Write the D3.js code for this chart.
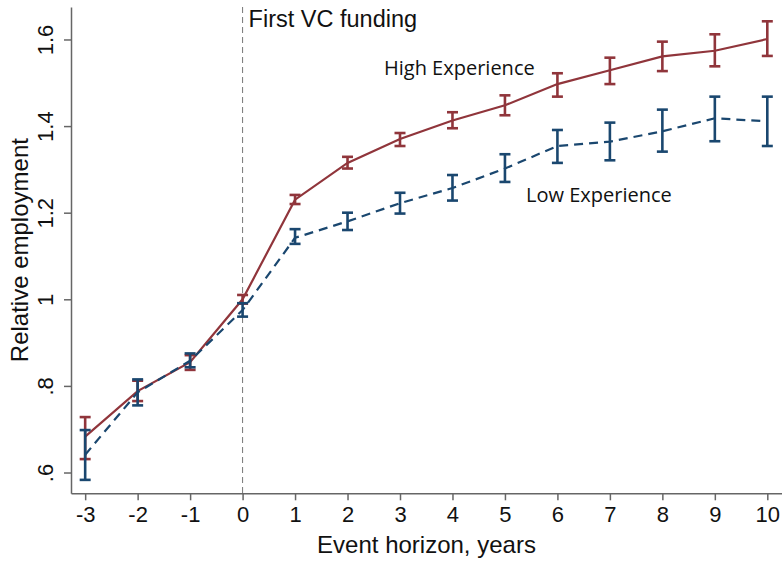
<!DOCTYPE html>
<html>
<head>
<meta charset="utf-8">
<script src="https://cdn.jsdelivr.net/npm/d3@7"></script>
<style>
  body { margin: 0; background: #fff; }
  text { font-family: "Liberation Sans", Arial, sans-serif; }
</style>
</head>
<body>
<svg width="782" height="561"></svg>
<script>
// event horizon (years relative to first VC round)
const years = [-3, -2, -1, 0, 1, 2, 3, 4, 5, 6, 7, 8, 9, 10];

// High experience VC: point estimate and 95% CI
const highMean = [0.683, 0.788, 0.855, 1.000, 1.230, 1.315, 1.370, 1.413, 1.448, 1.497, 1.529, 1.561, 1.574, 1.601];
const highLo   = [0.631, 0.765, 0.837, 0.990, 1.220, 1.302, 1.354, 1.395, 1.425, 1.468, 1.497, 1.527, 1.538, 1.562];
const highHi   = [0.728, 0.812, 0.871, 1.010, 1.241, 1.329, 1.384, 1.432, 1.471, 1.522, 1.558, 1.595, 1.612, 1.642];

// Low experience VC
const lowMean = [0.641, 0.785, 0.858, 0.975, 1.142, 1.180, 1.222, 1.257, 1.302, 1.354, 1.364, 1.388, 1.418, 1.411];
const lowLo   = [0.583, 0.755, 0.843, 0.960, 1.128, 1.160, 1.198, 1.228, 1.271, 1.315, 1.321, 1.341, 1.365, 1.354];
const lowHi   = [0.698, 0.815, 0.875, 0.991, 1.162, 1.200, 1.246, 1.287, 1.335, 1.391, 1.408, 1.438, 1.468, 1.468];

const yTicks = [0.6, 0.8, 1.0, 1.2, 1.4, 1.6];
const yTickLabels = [".6", ".8", "1", "1.2", "1.4", "1.6"];

const svg = d3.select("svg"),
  width = +svg.attr("width"),
  height = +svg.attr("height");

const plotLeft = 71, plotTop = 7, plotBottom = 493.3;

const x = d3.scaleLinear().domain([-3.27, 10.28]).range([plotLeft, width]);
const y = d3.scaleLinear().domain([0.552, 1.675]).range([plotBottom, plotTop]);

const maroon = "rgb(144,53,59)",
  navy = "rgb(26,71,111)";

// vertical marker at first funding
svg.append("line")
  .attr("x1", x(0)).attr("x2", x(0))
  .attr("y1", plotTop).attr("y2", plotBottom)
  .attr("stroke", "#777")
  .attr("stroke-width", 1)
  .attr("stroke-dasharray", "6,4");

// axes
const xAxis = svg.append("g")
  .attr("transform", `translate(0,${plotBottom})`)
  .call(d3.axisBottom(x).tickValues(years).tickSize(7).tickSizeOuter(0).tickPadding(6)
    .tickFormat(d => String(d)));   // plain hyphen, as in the original

const yAxis = svg.append("g")
  .attr("transform", `translate(${plotLeft},0)`)
  .call(d3.axisLeft(y).tickValues(yTicks).tickSize(7).tickSizeOuter(0)
    .tickFormat((d, i) => yTickLabels[i]));

[xAxis, yAxis].forEach(g => {
  g.select(".domain").attr("stroke", "#666").attr("stroke-width", 1.5);
  g.selectAll(".tick line").attr("stroke", "#666").attr("stroke-width", 1.5);
  g.selectAll(".tick text").attr("fill", "#111").style("font-size", "22px");
});

xAxis.selectAll(".tick text").attr("dy", null).attr("y", 29);

// rotated y tick labels
yAxis.selectAll(".tick text")
  .attr("x", null).attr("dy", null)
  .attr("text-anchor", "middle")
  .attr("transform", "translate(-18,0) rotate(-90)")
  .attr("y", 0);

// axis titles
svg.append("text")
  .attr("x", (plotLeft + width) / 2 + 0)
  .attr("y", 552.5)
  .attr("text-anchor", "middle")
  .style("font-size", "24px")
  .attr("fill", "#111")
  .text("Event horizon, years");

svg.append("text")
  .attr("transform", `translate(28,${(plotTop + plotBottom) / 2}) rotate(-90)`)
  .attr("text-anchor", "middle")
  .style("font-size", "24px")
  .attr("fill", "#111")
  .text("Relative employment");

// series
const series = [
  { name: "high", mean: highMean, lo: highLo, hi: highHi, color: maroon, dash: null },
  { name: "low", mean: lowMean, lo: lowLo, hi: lowHi, color: navy, dash: "9,6" }
];

const line = d3.line()
  .x(d => x(d.year))
  .y(d => y(d.mean));

series.forEach(s => {
  const pts = years.map((yr, i) => ({ year: yr, mean: s.mean[i], lo: s.lo[i], hi: s.hi[i] }));

  svg.append("path")
    .datum(pts)
    .attr("fill", "none")
    .attr("stroke", s.color)
    .attr("stroke-width", 2.2)
    .attr("stroke-dasharray", s.dash)
    .attr("d", line);

  const bars = svg.append("g").attr("class", "ci-" + s.name)
    .selectAll("g")
    .data(pts)
    .enter().append("g")
    .attr("stroke", s.color)
    .attr("stroke-width", 2.6);

  bars.append("line")
    .attr("x1", d => x(d.year)).attr("x2", d => x(d.year))
    .attr("y1", d => y(d.lo)).attr("y2", d => y(d.hi));

  bars.append("line")
    .attr("x1", d => x(d.year) - 5.5).attr("x2", d => x(d.year) + 5.5)
    .attr("y1", d => y(d.lo)).attr("y2", d => y(d.lo));

  bars.append("line")
    .attr("x1", d => x(d.year) - 5.5).attr("x2", d => x(d.year) + 5.5)
    .attr("y1", d => y(d.hi)).attr("y2", d => y(d.hi));
});

// annotations
svg.append("text")
  .attr("x", x(0) + 6).attr("y", 26.5)
  .style("font-size", "23.5px")
  .attr("fill", "#111")
  .text("First VC funding");

svg.append("text")
  .attr("x", 384).attr("y", 75)
  .style("font-family", "'Open Sans', sans-serif")
  .style("font-size", "20px")
  .attr("fill", "#111")
  .text("High Experience");

svg.append("text")
  .attr("x", 526).attr("y", 201.5)
  .style("font-family", "'Open Sans', sans-serif")
  .style("font-size", "20px")
  .attr("fill", "#111")
  .text("Low Experience");
</script>
</body>
</html>
